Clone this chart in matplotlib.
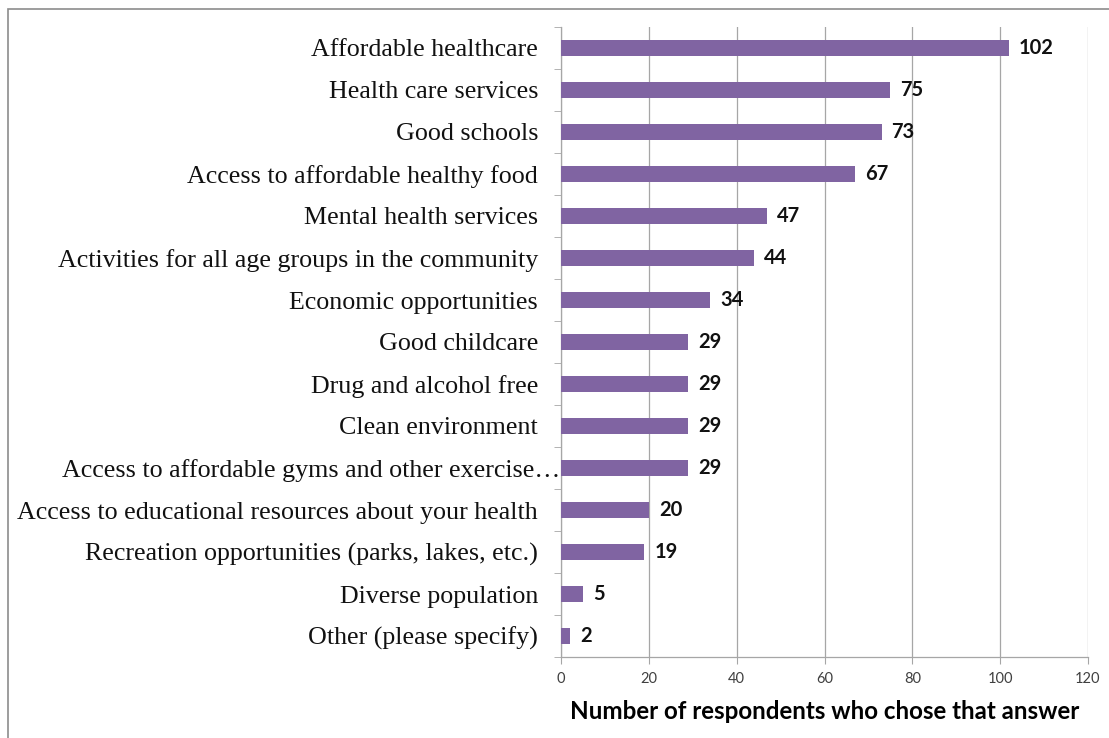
import matplotlib.pyplot as plt
from matplotlib.patches import Rectangle
from matplotlib.transforms import offset_copy, ScaledTranslation

answers = [
    "Affordable healthcare",
    "Health care services",
    "Good schools",
    "Access to affordable healthy food",
    "Mental health services",
    "Activities for all age groups in the community",
    "Economic opportunities",
    "Good childcare",
    "Drug and alcohol free",
    "Clean environment",
    "Access to affordable gyms and other exercise\u2026",
    "Access to educational resources about your health",
    "Recreation opportunities (parks, lakes, etc.)",
    "Diverse population",
    "Other (please specify)",
]
counts = [102, 75, 73, 67, 47, 44, 34, 29, 29, 29, 29, 20, 19, 5, 2]
x_ticks = [0, 20, 40, 60, 80, 100, 120]

bar_color = "#8064A2"
grid_color = "#A6A6A6"

fig = plt.figure(figsize=(11.09, 7.38), dpi=100)
ax = fig.add_axes([561 / 1109, 1 - 657 / 738, (1088 - 561) / 1109, (657 - 27) / 738])

# outer chart frame (only top and left edges fall inside the image)
fig.patches.append(Rectangle((8 / 1109, -0.1), 1.2, 1 - 9 / 738 + 0.1,
                             transform=fig.transFigure, fill=False,
                             edgecolor="#8C8C8C", linewidth=1.2))

pos = list(range(len(answers)))
ax.barh(pos, counts, height=0.4, color=bar_color, zorder=3)
ax.set_ylim(len(answers) - 0.5, -0.5)
ax.set_xlim(0, 120)

ax.set_xticks(x_ticks)
ax.set_xticklabels([str(t) for t in x_ticks], fontsize=10.5, color="#404040",
                   family="Lato")
ax.xaxis.grid(True, color=grid_color, linewidth=0.9, zorder=0)
ax.tick_params(axis="x", length=5, color=grid_color, pad=6)

# category ticks sit between bars
ax.set_yticks([p - 0.5 for p in pos] + [len(answers) - 0.5], minor=True)
ax.set_yticks(pos)
ax.set_yticklabels(answers, fontsize=18.7, family="Liberation Serif", color="#111111")
ax.tick_params(axis="y", which="major", length=0, pad=16.5)
ax.tick_params(axis="y", which="minor", length=5, color=grid_color)

# the truncated label runs right up to the axis
long_lbl = ax.get_yticklabels()[10]
long_lbl.set_transform(long_lbl.get_transform() + ScaledTranslation(0.22, 0, fig.dpi_scale_trans))

for side in ["top", "right"]:
    ax.spines[side].set_visible(False)
for side in ["left", "bottom"]:
    ax.spines[side].set_color(grid_color)
    ax.spines[side].set_linewidth(0.9)

label_tf = offset_copy(ax.transData, fig=fig, x=10, y=0, units="dots")
for p, c in zip(pos, counts):
    ax.text(c, p, str(c), transform=label_tf, ha="left", va="center",
            fontsize=14.5, fontweight="bold", family="Lato", color="#111111")

ax.set_xlabel("Number of respondents who chose that answer", fontsize=17.4,
              fontweight="bold", family="Lato", labelpad=10)

fig.savefig("out.png", dpi=100)
